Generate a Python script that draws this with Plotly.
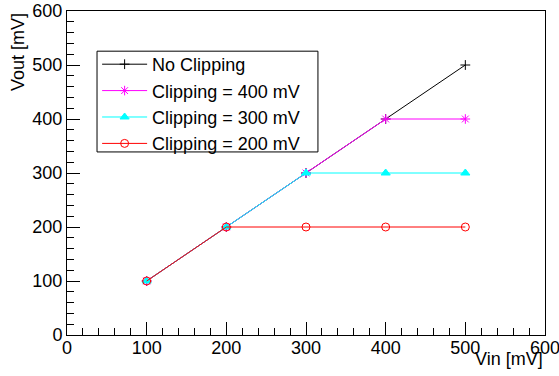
import plotly.graph_objects as go

vin = [100, 200, 300, 400, 500]
no_clip = [100, 200, 300, 400, 500]
clip400 = [100, 200, 300, 400, 400]
clip300 = [100, 200, 300, 300, 300]
clip200 = [100, 200, 200, 200, 200]
x_ticks = [0, 100, 200, 300, 400, 500, 600]
y_ticks = [0, 100, 200, 300, 400, 500, 600]

FONT = "Liberation Sans, Arial, Helvetica, sans-serif"

fig = go.Figure()
series = [
    ("No Clipping", no_clip, "black", "cross-thin-open", 7),
    ("Clipping = 400 mV", clip400, "#ff00ff", "asterisk-open", 8),
    ("Clipping = 300 mV", clip300, "#00ffff", "triangle-up", 8),
    ("Clipping = 200 mV", clip200, "#ff0000", "circle-open", 8),
]
for name, ys, col, sym, sz in series:
    fig.add_trace(go.Scatter(
        x=vin, y=ys, name=name, mode="lines+markers",
        line=dict(color=col, width=1),
        marker=dict(symbol=sym, size=sz, color=col, line=dict(color=col, width=1)),
    ))

axis_common = dict(
    showgrid=False, zeroline=False, showline=True, linecolor="black", linewidth=1,
    mirror=True, ticks="inside", ticklen=13, tickwidth=1, tickcolor="black",
    automargin=False, ticklabeloverflow="allow",
    tickfont=dict(family=FONT, size=18, color="black"),
    minor=dict(ticks="inside", ticklen=7, tickwidth=1, tickcolor="black", dtick=20),
)
fig.update_xaxes(range=[0, 600], tickvals=x_ticks, ticktext=[str(v) for v in x_ticks],
                 ticklabelstandoff=-4, **axis_common)
fig.update_yaxes(range=[0, 600], tickvals=y_ticks, ticktext=[str(v) for v in y_ticks], **axis_common)

fig.add_annotation(text="Vin [mV]", xref="paper", yref="paper", x=1, y=-0.0756,
                   xanchor="right", yanchor="middle", showarrow=False,
                   font=dict(family=FONT, size=18, color="black"))
fig.add_annotation(text="Vout [mV]", xref="paper", yref="paper", x=-0.1025, y=1,
                   xanchor="center", yanchor="top", showarrow=False, textangle=-90,
                   font=dict(family=FONT, size=18, color="black"))

# legend frame
fig.add_shape(type="rect", xref="paper", yref="paper",
              x0=0.0628, x1=0.525, y0=0.565, y1=0.876,
              line=dict(color="black", width=1), fillcolor="white", layer="above")

fig.update_layout(
    width=559, height=376,
    margin=dict(l=67, r=14, t=11, b=41),
    paper_bgcolor="white", plot_bgcolor="white",
    showlegend=True,
    legend=dict(x=0.063, y=0.892, xanchor="left", yanchor="top",
                borderwidth=0, bgcolor="rgba(0,0,0,0)",
                font=dict(family=FONT, size=18, color="black"),
                tracegroupgap=0, itemwidth=45),
)
fig.write_html("out.html", config={"displayModeBar": False},
               post_script="document.body.style.margin='0';document.body.style.overflow='hidden';")
